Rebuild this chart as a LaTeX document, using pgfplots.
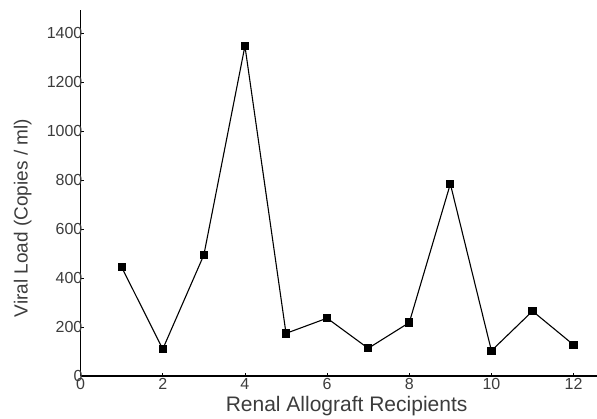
\documentclass[border=0pt]{standalone}
\usepackage{fontspec}
\setmainfont{Liberation Sans}
\usepackage{pgfplots}
\pgfplotsset{compat=1.18}

\definecolor{ticktext}{RGB}{60,60,60}

\begin{document}
\begin{tikzpicture}
\begin{axis}[
    scale only axis,
    width=516pt, height=366pt,
    xmin=0, xmax=12.56,
    ymin=0, ymax=1494,
    axis lines=left,
    axis line style={-, line width=1.3pt},
    xtick={0,2,...,12},
    ytick={0,200,...,1400},
    tick style={black, line width=0.8pt},
    major tick length=3pt,
    tick align=inside,
    /pgf/number format/assume math mode=true,
    /pgf/number format/set thousands separator={},
    ticklabel style={font=\fontsize{16}{16}\selectfont, text=ticktext, inner sep=0pt},
    yticklabel style={anchor=east, xshift=2pt},
    xticklabel style={anchor=north, yshift=-2pt},
    clip=false,
]
\addplot[black, line width=1.1pt, mark=square*, mark size=3.6pt,
         mark options={solid}] coordinates {
    (1, 444) (2, 110) (3, 494) (4, 1347) (5, 174) (6, 236)
    (7, 113) (8, 218) (9, 784) (10, 103) (11, 265) (12, 127)
};
\end{axis}
\node[rotate=90, font=\fontsize{19}{19}\selectfont, text=ticktext] at (-58pt,158pt) {Viral Load (Copies / ml)};
\node[font=\fontsize{21}{21}\selectfont, text=ticktext] at (266pt,-30pt) {Renal Allograft Recipients};
\pgfresetboundingbox
\path[use as bounding box] (-80.6pt,-43pt) rectangle (516.4pt,376pt);
\end{tikzpicture}
\end{document}
